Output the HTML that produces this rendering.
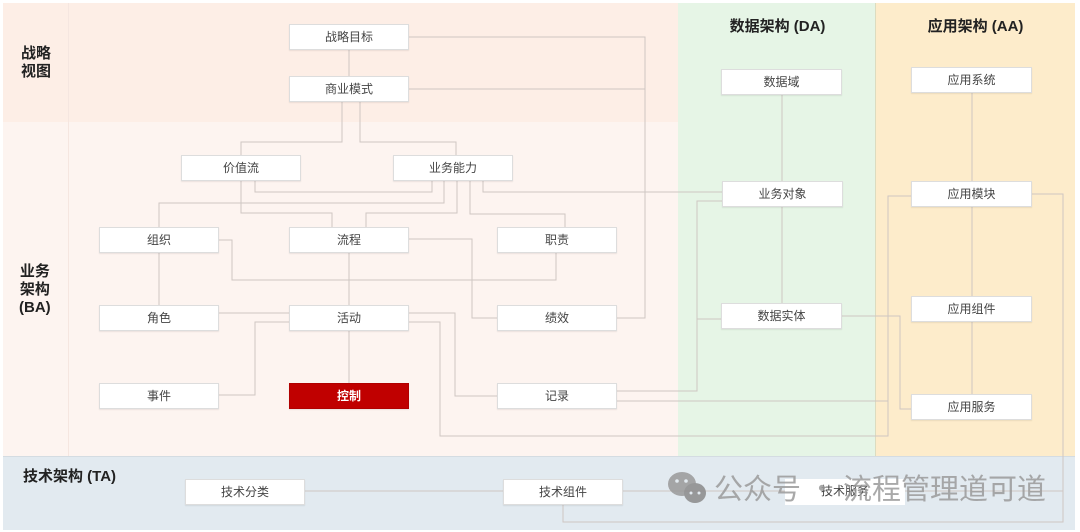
<!DOCTYPE html>
<html><head><meta charset="utf-8"><style>
*{margin:0;padding:0;box-sizing:border-box}
body{width:1080px;height:532px;background:#fff;position:relative;overflow:hidden;font-family:"Liberation Sans","Noto Sans CJK SC",sans-serif;color:#333}
.bg{position:absolute}
.n{position:absolute;width:120px;height:26px;background:#fff;border:1px solid #ddd;box-shadow:0 1px 1px rgba(0,0,0,.08);font-size:12px;line-height:24px;text-align:center;color:#444}
.t{position:absolute;font-weight:bold;font-size:15px;color:#222;line-height:18px}
svg{position:absolute;left:0;top:0}
</style></head><body>
<div class="bg" style="left:3px;top:3px;width:675px;height:119px;background:#fdeee6"></div>
<div class="bg" style="left:3px;top:122px;width:675px;height:334px;background:#fdf4f0"></div>
<div class="bg" style="left:68px;top:3px;width:1px;height:453px;background:#f5e6e0"></div>
<div class="bg" style="left:678px;top:3px;width:197px;height:453px;background:#e6f5e6"></div>
<div class="bg" style="left:875px;top:3px;width:1px;height:453px;background:#dcdcc0"></div>
<div class="bg" style="left:876px;top:3px;width:199px;height:453px;background:#fdeccb"></div>
<div class="bg" style="left:3px;top:456px;width:1072px;height:74px;background:#e2eaf0;border-top:1px solid #d4dce2"></div>

<svg width="1080" height="532" fill="none" stroke="#cfc6c2" stroke-width="1">
<path d="M409 37H645V318H617M409 89H645"/>
<path d="M349 50V76"/>
<path d="M342 102V142H241V155M360 102V142H456V155"/>
<path d="M255 181V192H432V181"/>
<path d="M241 181V213H332V227"/>
<path d="M444 181V203H159V227"/>
<path d="M457 181V213H366V227"/>
<path d="M470 181V214H565V227"/>
<path d="M483 181V192H722"/>
<path d="M219 240H232V280H556V253"/>
<path d="M159 253V305"/>
<path d="M409 239H472V318H497"/>
<path d="M349 253V305M349 331V383"/>
<path d="M219 313H289M219 395H255V322H289"/>
<path d="M409 313H455V396H497"/>
<path d="M409 322H440V436H888V196H911"/>
<path d="M617 391H697V201H722M697 319H721"/>
<path d="M617 401H888"/>
<path d="M842 316H900V409H911"/>
<path d="M1032 194H1063V522H563V504"/>
<path d="M782 95V181M782 207V303M972 93V394"/>
<path d="M305 491H503M623 491H1063"/>
</svg>

<div class="t" style="left:21px;top:45px">战略<br>视图</div>
<div class="t" style="left:19px;top:263px;text-align:center">业务<br>架构<br>(BA)</div>
<div class="t" style="left:680px;top:18px;width:195px;text-align:center">数据架构 (DA)</div>
<div class="t" style="left:876px;top:18px;width:199px;text-align:center">应用架构 (AA)</div>
<div class="t" style="left:23px;top:468px">技术架构 (TA)</div>

<div class="n" style="left:289px;top:24px">战略目标</div>
<div class="n" style="left:289px;top:76px">商业模式</div>
<div class="n" style="left:181px;top:155px">价值流</div>
<div class="n" style="left:393px;top:155px">业务能力</div>
<div class="n" style="left:99px;top:227px">组织</div>
<div class="n" style="left:289px;top:227px">流程</div>
<div class="n" style="left:497px;top:227px">职责</div>
<div class="n" style="left:99px;top:305px">角色</div>
<div class="n" style="left:289px;top:305px">活动</div>
<div class="n" style="left:497px;top:305px">绩效</div>
<div class="n" style="left:99px;top:383px">事件</div>
<div class="n" style="left:289px;top:383px;background:#c00000;border-color:#b00000;color:#fff;font-weight:bold">控制</div>
<div class="n" style="left:497px;top:383px">记录</div>
<div class="n" style="left:721px;top:69px;width:121px">数据域</div>
<div class="n" style="left:722px;top:181px;width:121px">业务对象</div>
<div class="n" style="left:721px;top:303px;width:121px">数据实体</div>
<div class="n" style="left:911px;top:67px;width:121px">应用系统</div>
<div class="n" style="left:911px;top:181px;width:121px">应用模块</div>
<div class="n" style="left:911px;top:296px;width:121px">应用组件</div>
<div class="n" style="left:911px;top:394px;width:121px">应用服务</div>
<div class="n" style="left:185px;top:479px">技术分类</div>
<div class="n" style="left:503px;top:479px">技术组件</div>
<div class="n" style="left:785px;top:479px;border:none;box-shadow:none">技术服务</div>

<svg width="1080" height="532">
<g fill="#9a9a9a" opacity="0.85">
<ellipse cx="682" cy="484" rx="14" ry="12"/>
<ellipse cx="695" cy="493" rx="11" ry="10" fill="#8a8a8a"/>
</g>
<g fill="#e2eaf0"><circle cx="677" cy="481" r="1.8"/><circle cx="686" cy="481" r="1.8"/><circle cx="691" cy="493" r="1.5"/><circle cx="699" cy="493" r="1.5"/></g>
<text x="714" y="499" font-family="Noto Sans CJK SC, sans-serif" font-size="29" fill="#9a9a9a" fill-opacity="0.85">公众号 · 流程管理道可道</text>
</svg>
</body></html>
